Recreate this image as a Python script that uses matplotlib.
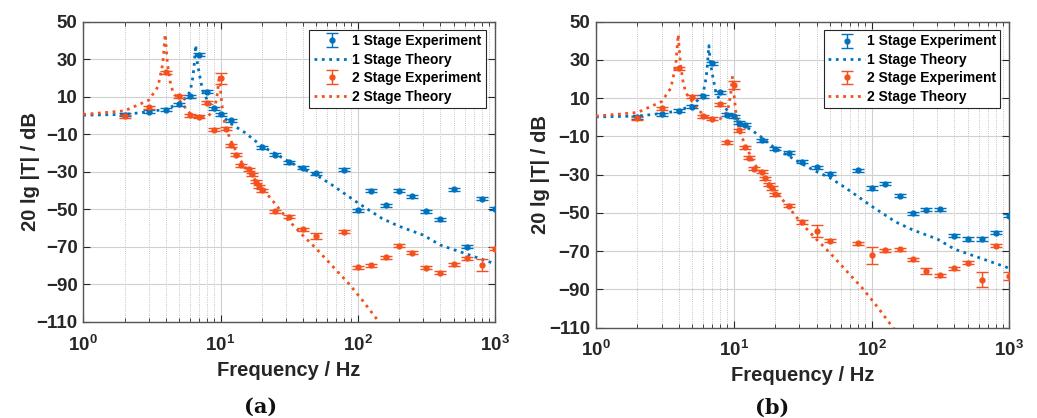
import matplotlib
matplotlib.use("Agg")
import matplotlib.pyplot as plt
from matplotlib.ticker import LogLocator, NullFormatter

plt.rcParams['font.family'] = ['Liberation Sans', 'DejaVu Sans']
plt.rcParams['font.weight'] = 'bold'
plt.rcParams['axes.labelweight'] = 'bold'
plt.rcParams['mathtext.fontset'] = 'custom'
plt.rcParams['mathtext.rm'] = 'Liberation Sans:bold'
plt.rcParams['mathtext.bf'] = 'Liberation Sans:bold'

blue = '#0072BD'
orange = '#F4511E'

# theory curves (same in both panels)
f_th1 = [1, 2, 3, 4, 5, 5.5, 6, 6.3, 6.45, 6.6, 6.75, 7, 7.4, 8, 9, 10, 12, 15, 20,
         25, 30, 40, 50, 65, 100, 150, 200, 300, 400, 600, 1000]
db_th1 = [0.2, 0.6, 2, 3.4, 6.4, 9.1, 12.6, 20.6, 28, 37.5, 29, 22.4, 13.5, 8.2, 3.5, 0.4, -4.5, -9, -16.3,
          -20.2, -23.7, -28.5, -31.7, -37, -46.5, -54.8, -59, -63.7, -69, -73.4, -79]

f_th2 = [1, 2, 3, 3.5, 3.8, 3.95, 4.1, 4.3, 4.5, 5, 6, 7, 8, 9, 9.5, 9.8, 10.1, 10.5, 11,
         12, 13, 14, 16, 18, 20, 25, 31, 40, 50, 65, 86, 107, 150]
db_th2 = [0.6, 2.5, 8.2, 15.3, 27.7, 43.3, 28, 18, 12.6, 8.2, 1.1, -1, -0.7, 2.9, 11.8, 21.5, 10, -1, -7,
          -14, -19, -24, -30, -34.5, -38.5, -47, -55.5, -64, -71, -80, -89.5, -98, -112]

# (a) measurements
f_1a = [2, 3, 4, 5, 6, 7, 8, 9, 10, 12, 20, 25, 31.5, 40, 50, 80, 100, 125, 160, 200,
        250, 315, 400, 500, 630, 800, 1000]
db_1a = [0.5, 2, 3.2, 5.9, 10.3, 32.5, 12.6, 3.8, 0.6, -2.6, -17, -20.9, -25, -27.8, -30.8, -29, -50.4, -40.1, -47.7, -40.2,
         -43.1, -50.9, -55.2, -39.4, -69.9, -44.4, -49.7]
err_1a = [0.8] * len(f_1a)

f_2a = [2, 3, 4, 5, 6, 7, 8, 9, 10, 11, 12, 13, 14, 16, 17, 18, 19, 20, 25, 31.5,
        40, 50, 80, 100, 125, 160, 200, 250, 315, 400, 500, 630, 800, 1000]
db_2a = [-0.5, 4.3, 23, 10.3, 0.2, -0.7, 6.8, -7.6, 19.8, -7, -15.8, -21, -26.6, -28.7, -31.2, -35.3, -37.6, -39.7, -50.9, -53.9,
         -60.7, -64.1, -61.9, -80.8, -79.7, -75.6, -69.5, -73.1, -81.1, -83.8, -79.3, -76.1, -79.7, -71]
err_2a = [0.8] * len(f_2a)
err_2a[8] = 3.0
err_2a[21] = 1.5
err_2a[32] = 3.0

# (b) measurements
f_1b = [2, 3, 4, 5, 6, 7, 8, 9, 10, 11, 12, 16, 20, 25, 31.5, 40, 50, 80, 100, 125,
        160, 200, 250, 315, 400, 500, 630, 800, 1000]
db_1b = [0, 1.6, 3.3, 5.6, 10.9, 28.3, 13, 1.2, 0.4, -2.8, -4, -12, -16.4, -18.6, -23.3, -26.2, -29.5, -27.7, -37, -34.8,
         -41, -50.2, -48.4, -48.1, -62, -63.7, -63.7, -60.4, -51.4]
err_1b = [0.8] * len(f_1b)

f_2b = [2, 3, 4, 5, 6, 7, 8, 9, 10, 11, 12, 13, 14, 16, 17, 18, 19, 20, 25, 31.5,
        40, 50, 80, 100, 125, 160, 200, 250, 315, 400, 500, 630, 800, 1000]
db_2b = [-0.5, 4.7, 25.6, 10.7, 0.5, -0.7, 6.8, -13, 17, -6.7, -15.6, -21.2, -27, -28.6, -32, -35.3, -37, -40.2, -46.2, -54.8,
         -59.4, -64.6, -66, -72.3, -69.5, -69, -74.2, -80.5, -82.6, -79.1, -76.2, -84.9, -67.2, -83]
err_2b = [0.8] * len(f_2b)
err_2b[8] = 2.0
err_2b[20] = 3.0
err_2b[23] = 4.5
err_2b[27] = 1.5
err_2b[31] = 4.0
err_2b[33] = 2.0

yticks = [-110, -90, -70, -50, -30, -10, 10, 30, 50]


def draw(ax, f1, d1, e1, f2, d2, e2, ypad):
    h1 = ax.errorbar(f1, d1, yerr=e1, fmt='.', color=blue, ms=7, capsize=4,
                     elinewidth=1, capthick=1, zorder=4)
    h2, = ax.plot(f_th1, db_th1, ':', color=blue, lw=2, zorder=3)
    h3 = ax.errorbar(f2, d2, yerr=e2, fmt='.', color=orange, ms=7, capsize=4,
                     elinewidth=1, capthick=1, zorder=4)
    h4, = ax.plot(f_th2, db_th2, ':', color=orange, lw=2, zorder=3)

    ax.set_xscale('log')
    ax.set_xlim(1, 1000)
    ax.set_ylim(-110, 50)
    ax.set_yticks(yticks)
    ax.xaxis.set_minor_locator(LogLocator(base=10, subs=range(2, 10)))
    ax.xaxis.set_minor_formatter(NullFormatter())
    ax.grid(True, which='major', color='#d0d0d0', lw=0.8, ls='-')
    ax.grid(True, which='minor', axis='x', color='#b0b0b0', lw=0.6, ls=':')
    ax.set_axisbelow(True)
    ax.tick_params(which='both', direction='in', top=True, right=True,
                   colors='#262626', labelsize=13.5)
    ax.tick_params(axis='y', which='major', length=5, pad=4)
    ax.tick_params(axis='x', which='major', length=5, pad=9)
    ax.tick_params(which='minor', length=3)
    for s in ax.spines.values():
        s.set_color('#555555')
        s.set_linewidth(1)
    ax.set_xlabel('Frequency / Hz', fontsize=14.5, color='#262626', labelpad=4.5)
    ax.set_ylabel('20 lg |T| / dB', fontsize=14.5, color='#262626', labelpad=ypad)
    leg = ax.legend([h1, h2, h3, h4],
                    ['1 Stage Experiment', '1 Stage Theory',
                     '2 Stage Experiment', '2 Stage Theory'],
                    loc='upper right', bbox_to_anchor=(0.978, 0.972), fontsize=10,
                    fancybox=False, framealpha=1, edgecolor='#262626',
                    handlelength=2.7, borderpad=0.3, labelspacing=0.32,
                    handletextpad=0.1, borderaxespad=0)
    leg.get_frame().set_linewidth(0.8)


fig = plt.figure(figsize=(10.37, 4.18), dpi=100)
ax1 = fig.add_axes([0.0803, 0.2297, 0.3970, 0.7184])
ax2 = fig.add_axes([0.5747, 0.2165, 0.3986, 0.7316])
draw(ax1, f_1a, db_1a, err_1a, f_2a, db_2a, err_2a, -2.5)
draw(ax2, f_1b, db_1b, err_1b, f_2b, db_2b, err_2b, -0.5)

fig.text(0.251, 0.026, '(a)', ha='center', va='center', fontsize=15,
         family='DejaVu Serif', weight='bold', color='#111111')
fig.text(0.745, 0.024, '(b)', ha='center', va='center', fontsize=15,
         family='DejaVu Serif', weight='bold', color='#111111')

fig.savefig('out.png', dpi=100)
